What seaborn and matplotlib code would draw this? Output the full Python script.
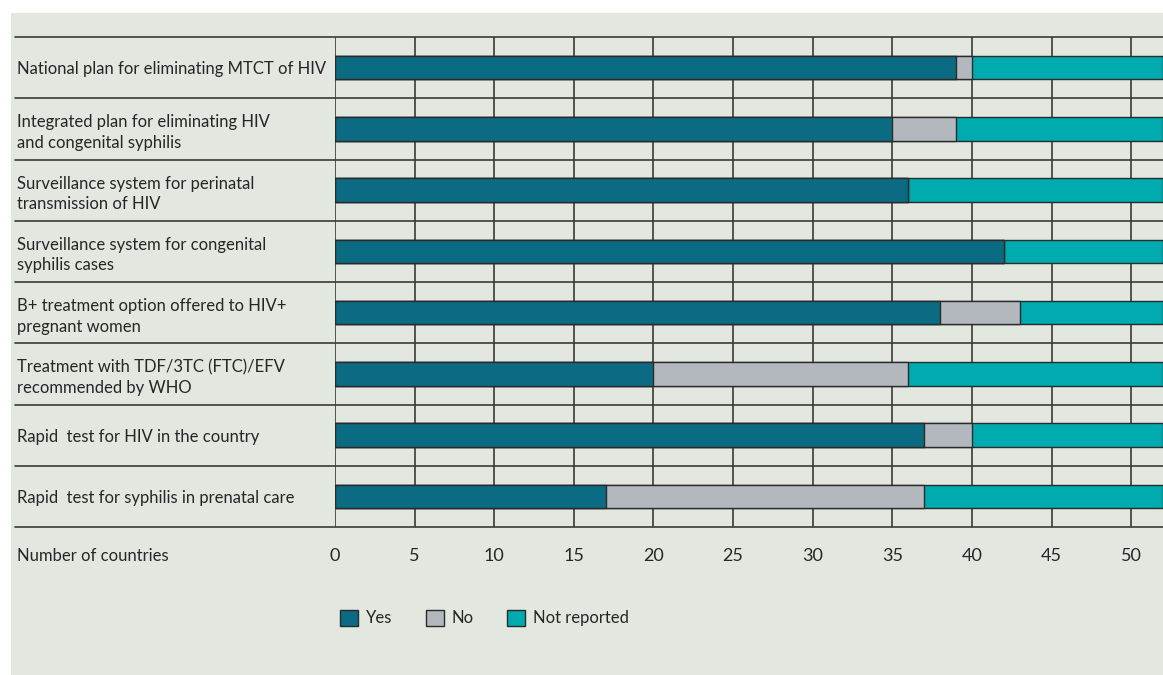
import matplotlib
matplotlib.use("Agg")
import matplotlib.pyplot as plt
from matplotlib.patches import Rectangle, Patch
import pandas as pd
import seaborn as sns

# data
categories = [
    "National plan for eliminating MTCT of HIV",
    "Integrated plan for eliminating HIV\nand congenital syphilis",
    "Surveillance system for perinatal\ntransmission of HIV",
    "Surveillance system for congenital\nsyphilis cases",
    "B+ treatment option offered to HIV+\npregnant women",
    "Treatment with TDF/3TC (FTC)/EFV\nrecommended by WHO",
    "Rapid  test for HIV in the country",
    "Rapid  test for syphilis in prenatal care",
]
yes = [39, 35, 36, 42, 38, 20, 37, 17]
no = [1, 4, 0, 0, 5, 16, 3, 20]
not_reported = [12, 13, 16, 10, 9, 16, 12, 15]
series = ["Yes", "No", "Not reported"]
colors = ["#0a6b82", "#b3b8bf", "#00abb0"]
x_ticks = list(range(0, 51, 5))

bg = "#e2e7e0"
ink = "#262626"
grid = "#3a3a3a"
fs = 12

sns.set_theme(style="white")
plt.rcParams["font.family"] = ["Lato", "DejaVu Sans"]
plt.rcParams["font.size"] = fs

df = pd.DataFrame({"item": categories, "Yes": yes, "No": no, "Not reported": not_reported})
df["yes_no"] = df["Yes"] + df["No"]
df["total"] = df["yes_no"] + df["Not reported"]

W, H = 1163, 675
fig = plt.figure(figsize=(W / 100, H / 100), dpi=100)
fig.patch.set_facecolor("white")
fig.patches.append(Rectangle((11 / W, 0), 1 - 11 / W, 1 - 13 / H,
                             transform=fig.transFigure, facecolor=bg,
                             edgecolor="none", zorder=-10))

ax = fig.add_axes([335 / W, 1 - 527 / H, 1 - 335 / W, (527 - 37) / H])
ax.set_facecolor(bg)

# stacked bars: draw cumulative totals back to front
for col, c in zip(["total", "yes_no", "Yes"], colors[::-1]):
    sns.barplot(data=df, y="item", x=col, orient="h", color=c, width=0.38,
                edgecolor="#2a2a2a", linewidth=1, saturation=1, ax=ax, zorder=3)

ax.set_xlim(0, 52)
ax.set_ylim(len(categories) - 0.5, -0.5)
ax.set_xticks(x_ticks)
ax.set_xticklabels([str(t) for t in x_ticks], color=ink, fontsize=13)
for t in x_ticks:
    ax.axvline(t, color=grid, lw=1.2, zorder=1)

# row separators spanning into the label area
xt = ax.get_yaxis_transform()
left = -(335 - 15) / (W - 335)
for b in [i - 0.5 for i in range(len(categories) + 1)]:
    ax.plot([left, 1], [b, b], transform=xt, color=grid, lw=1.2,
            clip_on=False, zorder=4)

for s in ax.spines.values():
    s.set_visible(False)

ax.tick_params(axis="x", direction="out", length=11, width=1.2, color=grid, pad=4)
ax.tick_params(axis="y", length=0, pad=(335 - 17) * 0.72)
for lab in ax.get_yticklabels():
    lab.set_horizontalalignment("left")
    lab.set_color(ink)
    lab.set_fontsize(fs)
    lab.set_linespacing(1.35)
ax.set_xlabel("")
ax.set_ylabel("")

fig.text(17 / W, 1 - 556 / H, "Number of countries", ha="left", va="center",
         color=ink, fontsize=fs)

handles = [Patch(facecolor=c, edgecolor="#2a2a2a", linewidth=1) for c in colors]
fig.legend(handles, series, loc="center left", bbox_to_anchor=(325 / W, 1 - 618 / H),
           ncol=3, frameon=False, fontsize=fs, handlelength=1.1, handleheight=1.1,
           handletextpad=0.45, columnspacing=2.0, labelcolor=ink)

fig.savefig("out.png", dpi=100, facecolor="white")
